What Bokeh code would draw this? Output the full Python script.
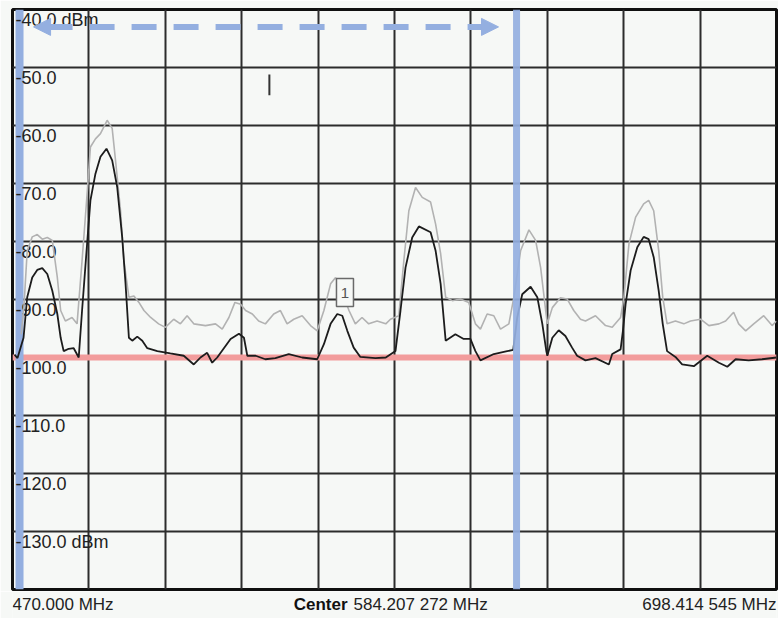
from bokeh.plotting import figure
from bokeh.layouts import column
from bokeh.models import Range1d, FixedTicker, Grid, Label, Span, Arrow, NormalHead
from bokeh.core.properties import value
from bokeh.embed import file_html
from bokeh.resources import INLINE

# ---- data ----
f_start = 470.000
f_stop = 698.414545
f_center = 584.207272
ref_top = -40.0
ref_bottom = -140.0
threshold_dbm = -100.0

y_tick_values = [-40, -50, -60, -70, -80, -90, -100, -110, -120, -130]
y_tick_labels = ["-40.0 dBm", "-50.0", "-60.0", "-70.0", "-80.0", "-90.0",
                 "-100.0", "-110.0", "-120.0", "-130.0 dBm"]
x_labels = ["470.000 MHz", "584.207 272 MHz", "698.414 545 MHz"]

black_mhz = [470.6, 471.5, 473.3, 474.4, 475.9, 477.4, 478.9, 480.4, 481.9, 483.4,
             484.4, 485.3, 486.8, 488.3, 489.8, 490.8, 492.3, 493.3, 494.8, 496.3,
             498.1, 499.8, 501.3, 502.8, 503.8, 504.8, 505.8, 507.3, 508.8, 510.3,
             513.3, 517.2, 521.2, 524.2, 526.2, 528.2, 529.7, 531.2, 535.2, 537.7,
             539.2, 540.2, 542.7, 545.6, 548.6, 552.6, 556.6, 561.1, 563.1, 565.1,
             567.1, 568.6, 570.1, 572.0, 574.0, 578.5, 581.6, 584.5, 586.0, 587.5,
             589.5, 591.5, 595.0, 596.5, 598.0, 599.5, 602.4, 604.9, 606.9, 608.4,
             609.9, 613.9, 617.9, 619.7, 620.9, 622.4, 624.9, 626.9, 628.4, 629.6,
             629.9, 631.4, 633.3, 635.3, 637.3, 638.8, 641.3, 644.3, 648.3, 649.3,
             651.8, 652.5, 653.3, 654.8, 656.8, 658.7, 660.2, 661.7, 663.2, 664.4,
             665.7, 668.2, 670.2, 673.7, 677.7, 681.2, 683.7, 686.2, 690.1, 694.1,
             698.4]
black_dbm = [-99.5, -100.1, -96.6, -89.6, -86.2, -84.9, -84.6, -85.6, -88.5, -92.5,
             -96.6, -98.9, -98.5, -98.4, -100.0, -91.9, -80.4, -72.9, -68.3, -65.4,
             -64.0, -66.0, -70.6, -79.3, -87.3, -96.6, -97.1, -96.4, -97.1, -98.4,
             -98.9, -99.3, -99.7, -101.2, -100.0, -99.2, -100.9, -100.0, -96.8, -95.9,
             -96.6, -99.7, -99.7, -100.3, -100.1, -99.4, -100.0, -100.3, -97.7, -94.2,
             -92.5, -92.8, -95.4, -98.3, -99.9, -100.1, -100.0, -98.9, -91.9, -84.5,
             -79.3, -77.4, -78.4, -81.6, -87.3, -97.1, -96.0, -96.8, -96.8, -98.9,
             -100.5, -99.4, -98.9, -98.7, -93.1, -89.1, -87.8, -89.6, -94.2, -98.9,
             -99.7, -96.6, -95.3, -96.3, -98.3, -99.7, -100.5, -100.1, -101.2, -99.4,
             -98.6, -95.4, -90.8, -85.0, -81.0, -79.2, -79.6, -82.7, -88.5, -94.2,
             -98.9, -99.9, -101.2, -101.5, -99.7, -100.9, -101.6, -100.3, -100.5, -100.3,
             -100.0]

gray_mhz = [472.6, 473.4, 474.4, 475.9, 477.4, 478.9, 480.4, 481.9, 483.4, 484.4,
            485.8, 487.8, 489.3, 490.8, 492.3, 493.3, 494.8, 496.3, 498.3, 499.8,
            500.8, 502.3, 503.3, 504.8, 506.3, 507.8, 509.3, 511.3, 513.7, 515.7,
            518.2, 520.2, 522.2, 524.2, 527.7, 530.7, 532.7, 534.7, 536.5, 538.2,
            539.7, 541.7, 543.6, 545.6, 548.1, 550.1, 552.1, 554.1, 556.6, 559.1,
            561.1, 563.1, 565.1, 566.6, 568.6, 570.6, 572.5, 574.5, 576.5, 579.0,
            581.6, 583.0, 585.5, 587.0, 588.5, 590.5, 592.5, 595.0, 596.5, 598.0,
            599.5, 601.5, 603.9, 606.4, 608.4, 609.9, 611.9, 613.9, 615.9, 618.4,
            619.9, 621.9, 624.4, 626.4, 627.9, 629.4, 629.9, 631.4, 633.8, 635.8,
            637.8, 639.8, 641.3, 644.3, 647.3, 649.3, 651.8, 652.8, 654.3, 656.3,
            658.7, 660.2, 661.7, 663.2, 664.4, 665.7, 668.2, 670.7, 672.7, 675.7,
            678.2, 681.2, 683.2, 685.6, 687.1, 689.2, 691.6, 694.6, 697.1, 698.4]
gray_dbm = [-96.0, -91.4, -81.6, -79.2, -78.8, -79.6, -79.3, -79.8, -86.2, -91.9,
            -93.7, -93.1, -94.2, -83.3, -71.8, -63.7, -62.3, -61.4, -59.1, -60.5,
            -66.0, -74.7, -83.3, -89.6, -89.4, -90.5, -91.9, -93.1, -94.2, -94.8,
            -93.4, -94.2, -92.8, -94.2, -94.5, -94.2, -95.1, -93.1, -90.5, -90.8,
            -91.9, -92.5, -93.7, -94.2, -92.5, -91.9, -94.2, -93.4, -92.8, -94.5,
            -95.4, -91.9, -87.3, -86.2, -88.8, -91.9, -94.2, -93.1, -94.2, -93.7,
            -94.2, -93.4, -92.8, -83.3, -74.7, -70.7, -72.4, -73.2, -77.0, -82.1,
            -89.6, -90.2, -89.9, -90.5, -94.2, -95.1, -92.5, -92.8, -95.1, -94.2,
            -89.6, -81.6, -78.0, -79.8, -84.5, -91.9, -94.2, -91.4, -89.7, -89.9,
            -91.9, -93.4, -93.7, -92.8, -94.5, -94.8, -93.1, -89.6, -80.4, -75.8,
            -73.5, -72.9, -74.7, -81.6, -89.6, -94.2, -93.7, -94.2, -93.7, -93.4,
            -94.5, -94.2, -93.7, -92.2, -94.2, -95.4, -94.2, -92.8, -94.5, -93.7]

# vertical cursors (MHz) and span arrow
cursor_left_mhz = 472.1
cursor_right_mhz = 620.7
arrow_start_mhz = 476.3
arrow_end_mhz = 615.3
arrow_dbm = -43.0
# marker 1 label
marker_label_mhz = 569.4
marker_label_dbm = -88.8
# small text cursor
text_cursor_mhz = 546.8
text_cursor_dbm = [-51.2, -54.8]

# ---- style / layout ----
BG = "#f6f8f6"
BLUE = "#94afe0"
GRID = "#2c2c2c"
FONT = "Liberation Sans"
TXT = "#222222"
W = 778
H_MAIN = 591
H_FOOT = 27
B_LEFT, B_RIGHT, B_TOP, B_BOTTOM = 12, 2, 9, 2

p = figure(width=W, height=H_MAIN, output_backend="svg", toolbar_location=None,
           x_axis_type=None, y_axis_type=None,
           x_range=Range1d(f_start, f_stop), y_range=Range1d(ref_bottom, ref_top),
           min_border_left=B_LEFT, min_border_right=B_RIGHT,
           min_border_top=B_TOP, min_border_bottom=B_BOTTOM,
           background_fill_color=BG, border_fill_color=BG,
           outline_line_color="#101010", outline_line_width=3)

n_div = 10
x_grid = [f_start + i * (f_stop - f_start) / n_div for i in range(1, n_div)]
y_grid = [v for v in y_tick_values if v != ref_top]
p.add_layout(Grid(dimension=0, ticker=FixedTicker(ticks=x_grid),
                  grid_line_color=GRID, grid_line_width=2))
p.add_layout(Grid(dimension=1, ticker=FixedTicker(ticks=y_grid),
                  grid_line_color=GRID, grid_line_width=2))

p.add_layout(Span(location=threshold_dbm, dimension="width", line_color="#f29c9c",
                  line_width=6, level="underlay"))
p.add_layout(Span(location=cursor_left_mhz, dimension="height", line_color=BLUE,
                  line_width=8, level="underlay"))

for v, t in zip(y_tick_values, y_tick_labels):
    p.add_layout(Label(x=f_start, y=v, text=t, x_offset=3, y_offset=-10,
                       text_baseline="middle", text_align="left",
                       text_font=FONT, text_font_size="18px", text_color=TXT,
                       level="underlay"))

p.line(gray_mhz, gray_dbm, line_color="#b2b2b2", line_width=1.6)
p.line(black_mhz, black_dbm, line_color="#1c1c1c", line_width=1.8)

p.add_layout(Span(location=cursor_right_mhz, dimension="height", line_color=BLUE,
                  line_alpha=0.92, line_width=7))

p.add_layout(Arrow(x_start=arrow_start_mhz, y_start=arrow_dbm,
                   x_end=arrow_end_mhz, y_end=arrow_dbm,
                   line_color=BLUE, line_width=6, line_dash="25 17", line_dash_offset=28,
                   start=NormalHead(size=17, fill_color=BLUE, line_color=BLUE, line_width=1),
                   end=NormalHead(size=17, fill_color=BLUE, line_color=BLUE, line_width=1)))

p.rect(x=[marker_label_mhz], y=[marker_label_dbm], width=17, height=28,
       width_units="screen", height_units="screen",
       fill_color=BG, line_color="#6a6a6a", line_width=1.5)
p.add_layout(Label(x=marker_label_mhz, y=marker_label_dbm, text="1",
                   text_align="center", text_baseline="middle",
                   text_font=FONT, text_font_size="15px", text_color="#555555"))

p.segment(x0=[text_cursor_mhz], y0=[text_cursor_dbm[0]], x1=[text_cursor_mhz],
          y1=[text_cursor_dbm[1]], line_color="#333333", line_width=2)

# ---- footer strip with the frequency labels (frame aligned with the main plot) ----
p2 = figure(width=W, height=H_FOOT, output_backend="svg", toolbar_location=None,
            x_axis_type=None, y_axis_type=None,
            x_range=p.x_range, y_range=Range1d(0, 1),
            min_border_left=B_LEFT, min_border_right=B_RIGHT,
            min_border_top=0, min_border_bottom=0,
            background_fill_color=BG, border_fill_color=BG, outline_line_color=None)

common = dict(text_font=value(FONT), text_font_size="17px", text_baseline="middle")
p2.text(x=[f_start], y=[0.52], text=[x_labels[0]], x_offset=0,
        text_align="left", text_color=TXT, **common)
p2.text(x=[f_center], y=[0.52], text=["Center"], x_offset=-47,
        text_align="right", text_color="#111111", text_font_style="bold", **common)
p2.text(x=[f_center], y=[0.52], text=[x_labels[1]], x_offset=-41,
        text_align="left", text_color=TXT, **common)
p2.text(x=[f_stop], y=[0.52], text=[x_labels[2]], x_offset=0,
        text_align="right", text_color=TXT, **common)

layout = column(p, p2, spacing=0)
open("out.html", "w").write(file_html(layout, INLINE))
